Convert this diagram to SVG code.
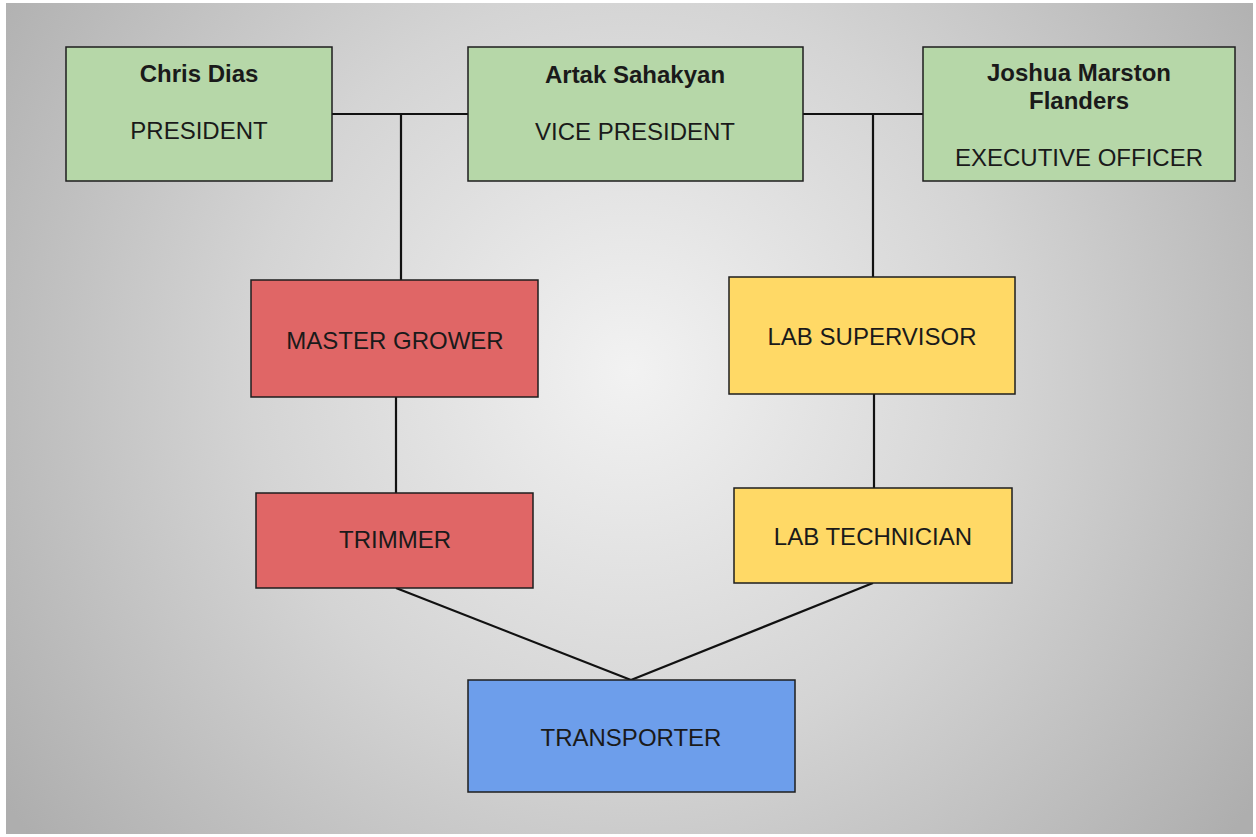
<svg xmlns="http://www.w3.org/2000/svg" width="1256" height="837" viewBox="0 0 1256 837">
<defs>
<radialGradient id="bg" gradientUnits="userSpaceOnUse" cx="630" cy="370" r="760">
<stop offset="0" stop-color="#f2f2f2"/>
<stop offset="0.5" stop-color="#d4d4d4"/>
<stop offset="1" stop-color="#aeaeae"/>
</radialGradient>
<style>
.box{stroke:#1e1e1e;stroke-width:1.5}
.g{fill:#b6d7a8}.r{fill:#e06666}.y{fill:#ffd966}.b{fill:#6d9eeb}
text{font-family:"Liberation Sans",Arial,sans-serif;font-size:24px;fill:#1a1a1a;text-anchor:middle}
.n{font-weight:bold;font-size:24px}
.c{stroke:#111;stroke-width:2.2;fill:none}
</style>
</defs>
<rect x="0" y="0" width="1256" height="837" fill="#ffffff"/>
<rect x="6" y="3" width="1247" height="831" fill="url(#bg)"/>
<g id="connectors">
<line class="c" x1="332" y1="114" x2="468" y2="114"/>
<line class="c" x1="401" y1="114" x2="401" y2="280"/>
<line class="c" x1="803" y1="114" x2="923" y2="114"/>
<line class="c" x1="873" y1="114" x2="873" y2="277"/>
<line class="c" x1="396" y1="397" x2="396" y2="493"/>
<line class="c" x1="874" y1="394" x2="874" y2="488"/>
<line class="c" x1="396" y1="588" x2="631" y2="680"/>
<line class="c" x1="873" y1="583" x2="631" y2="680"/>
</g>
<g id="chris">
<rect class="box g" x="66" y="47" width="266" height="134"/>
<text class="n" x="199" y="82">Chris Dias</text>
<text x="199" y="139">PRESIDENT</text>
</g>
<g id="artak">
<rect class="box g" x="468" y="47" width="335" height="134"/>
<text class="n" x="635" y="83">Artak Sahakyan</text>
<text x="635" y="140">VICE PRESIDENT</text>
</g>
<g id="joshua">
<rect class="box g" x="923" y="47" width="312" height="134"/>
<text class="n" x="1079" y="81">Joshua Marston</text>
<text class="n" x="1079" y="109">Flanders</text>
<text x="1079" y="166">EXECUTIVE OFFICER</text>
</g>
<g id="master-grower">
<rect class="box r" x="251" y="280" width="287" height="117"/>
<text x="395" y="349">MASTER GROWER</text>
</g>
<g id="lab-supervisor">
<rect class="box y" x="729" y="277" width="286" height="117"/>
<text x="872" y="345">LAB SUPERVISOR</text>
</g>
<g id="trimmer">
<rect class="box r" x="256" y="493" width="277" height="95"/>
<text x="395" y="548">TRIMMER</text>
</g>
<g id="lab-technician">
<rect class="box y" x="734" y="488" width="278" height="95"/>
<text x="873" y="545">LAB TECHNICIAN</text>
</g>
<g id="transporter">
<rect class="box b" x="468" y="680" width="327" height="112"/>
<text x="631" y="746">TRANSPORTER</text>
</g>
</svg>
